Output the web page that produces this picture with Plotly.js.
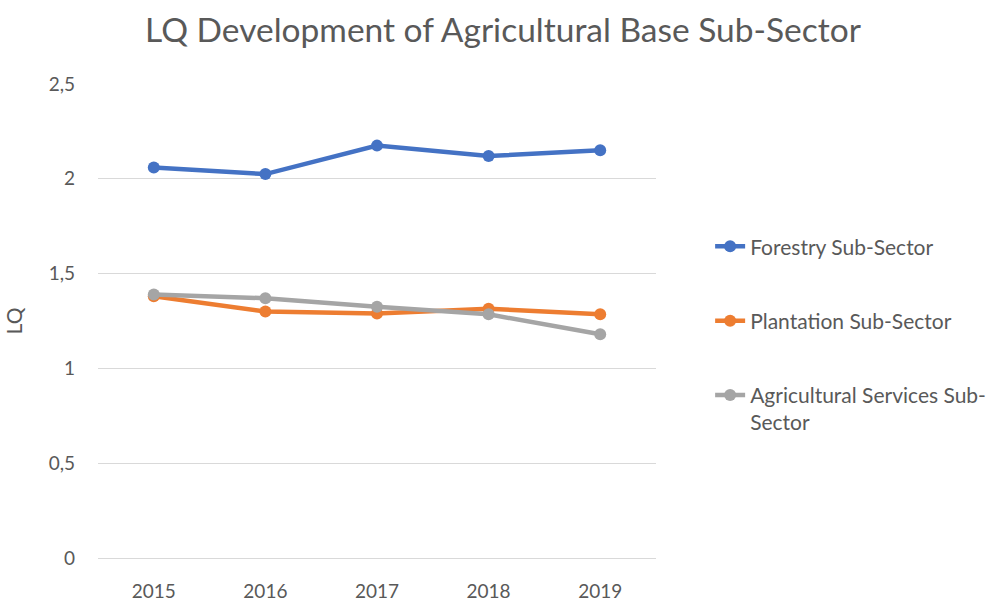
<!DOCTYPE html>
<html>
<head>
<meta charset="utf-8">
<script src="https://cdn.plot.ly/plotly-3.0.1.min.js"></script>
<style>html,body{margin:0;padding:0;background:#fff;}#chart{width:1006px;height:601px;}</style>
</head>
<body>
<div id="chart"></div>
<script>
var years = ["2015", "2016", "2017", "2018", "2019"];
var forestry = [2.06, 2.025, 2.175, 2.12, 2.15];
var plantation = [1.38, 1.30, 1.29, 1.315, 1.285];
var agriServices = [1.39, 1.37, 1.325, 1.285, 1.18];
var seriesNames = ["Forestry Sub-Sector", "Plantation Sub-Sector", "Agricultural Services Sub-<br>Sector"];
var yTickVals = [0, 0.5, 1, 1.5, 2, 2.5];
var yTickText = ["0", "0,5", "1", "1,5", "2", "2,5"];

var colors = ["#4472C4", "#ED7D31", "#A5A5A5"];
var dataSets = [forestry, plantation, agriServices];
var traces = dataSets.map(function(vals, i){
  return {
    x: years, y: vals, name: seriesNames[i], type: "scatter", mode: "lines+markers",
    legendgroup: "g" + i,
    line: {color: colors[i], width: 4.5},
    marker: {color: colors[i], size: 12}
  };
});

var font = "Lato, 'Liberation Sans', sans-serif";
var layout = {
  width: 1006, height: 601,
  margin: {l: 98, r: 350, t: 84, b: 43},
  paper_bgcolor: "#fff", plot_bgcolor: "#fff",
  font: {family: font, color: "#595959"},
  title: {text: "LQ Development of Agricultural Base Sub-Sector", font: {size: 33.5, color: "#595959", family: font}, x: 0.5, xanchor: "center", y: 0.95, yanchor: "middle"},
  xaxis: {type: "category", range: [-0.5, 4.5], tickfont: {size: 19, color: "#595959"}, showgrid: false, zeroline: false,
          showline: false, ticks: "", ticklabelstandoff: 20},
  yaxis: {range: [0, 2.5], tickvals: yTickVals, ticktext: yTickText, tickfont: {size: 19, color: "#595959"},
          showgrid: true, gridcolor: "#D9D9D9", gridwidth: 1, zeroline: true, zerolinecolor: "#D9D9D9", zerolinewidth: 1,
          showline: false, ticks: "", ticklabelstandoff: 22,
          title: {text: "LQ", font: {size: 21, color: "#595959"}, standoff: 20}},
  showlegend: true,
  legend: {x: 1.097, xanchor: "left", y: 0.70, yanchor: "top", font: {size: 21, color: "#595959", family: font},
           traceorder: "grouped", tracegroupgap: 44, valign: "top", bgcolor: "rgba(0,0,0,0)", itemwidth: 30, borderwidth: 0}
};
Plotly.newPlot("chart", traces, layout, {displayModeBar: false, staticPlot: true});
</script>
</body>
</html>
